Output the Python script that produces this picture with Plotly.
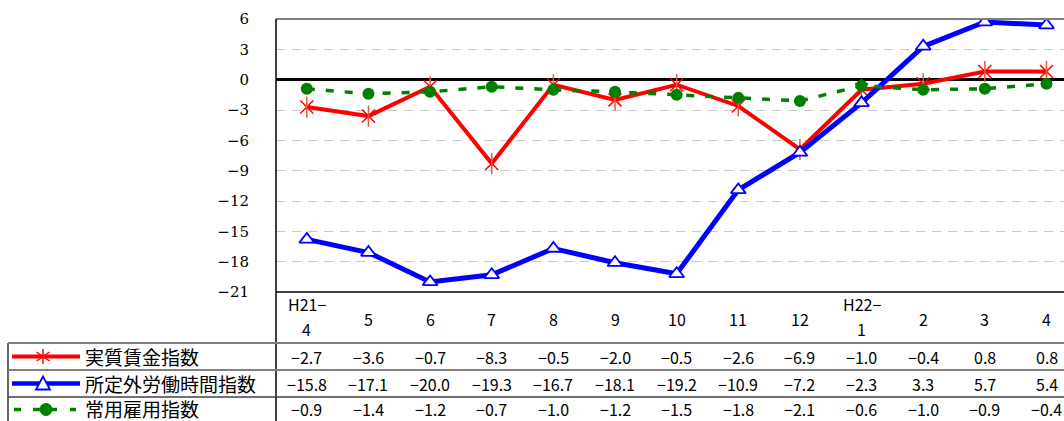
import plotly.graph_objects as go

# ---------------- data ----------------
categories = ["H21−\n4", "5", "6", "7", "8", "9", "10", "11", "12", "H22−\n1", "2", "3", "4"]
series_names = ["実質賃金指数", "所定外労働時間指数", "常用雇用指数"]
real_wage = [-2.7, -3.6, -0.7, -8.3, -0.5, -2.0, -0.5, -2.6, -6.9, -1.0, -0.4, 0.8, 0.8]
overtime = [-15.8, -17.1, -20.0, -19.3, -16.7, -18.1, -19.2, -10.9, -7.2, -2.3, 3.3, 5.7, 5.4]
employment = [-0.9, -1.4, -1.2, -0.7, -1.0, -1.2, -1.5, -1.8, -2.1, -0.6, -1.0, -0.9, -0.4]
y_ticks = list(range(-21, 7, 3))
y_ticktext = [str(v).replace("-", "−") for v in y_ticks]

W, H = 1064, 421
L, T, B_PIX = 276, 19, 292          # plot area left / top / bottom in window pixels
PW, PH = W - L, B_PIX - T
STEP = 61.64                        # pixels per category


def px(x):
    return (x - L) / PW


def py(y):
    return (B_PIX - y) / PH


xs = list(range(len(categories)))

fig = go.Figure()

# red: real wage
fig.add_trace(go.Scatter(x=xs, y=real_wage, mode="lines+markers", name=series_names[0],
                         line=dict(color="#FF0000", width=4),
                         marker=dict(symbol="x-thin-open", size=13, line=dict(color="#FF0000", width=1.5)),
                         showlegend=False, hoverinfo="skip"))
fig.add_trace(go.Scatter(x=xs, y=real_wage, mode="markers",
                         marker=dict(symbol="line-ns-open", size=15, line=dict(color="#FF0000", width=1.5)),
                         showlegend=False, hoverinfo="skip"))
# blue: overtime
fig.add_trace(go.Scatter(x=xs, y=overtime, mode="lines+markers", name=series_names[1],
                         line=dict(color="#0000FF", width=5),
                         marker=dict(symbol="triangle-up", size=13, color="white",
                                     line=dict(color="#0000FF", width=1.8)),
                         showlegend=False, hoverinfo="skip"))
# green: employment
fig.add_trace(go.Scatter(x=xs, y=employment, mode="lines+markers", name=series_names[2],
                         line=dict(color="#008000", width=3.5, dash="8px,11px"),
                         marker=dict(symbol="circle", size=12, color="#008000"),
                         showlegend=False, hoverinfo="skip"))

shapes = []
annotations = []

# borders
shapes.append(dict(type="line", xref="paper", yref="paper", x0=0, x1=1.02, y0=1, y1=1,
                   line=dict(color="#7f7f7f", width=2), layer="above"))
shapes.append(dict(type="line", xref="paper", yref="paper", x0=0, x1=1.02, y0=0, y1=0,
                   line=dict(color="black", width=1.5), layer="above"))
shapes.append(dict(type="line", xref="paper", yref="paper", x0=0, x1=0, y0=py(430), y1=1,
                   line=dict(color="black", width=1.5), layer="above"))
# legend column left border
shapes.append(dict(type="line", xref="paper", yref="paper", x0=px(8), x1=px(8), y0=py(343), y1=py(430),
                   line=dict(color="black", width=1.2), layer="above"))
# row separators
for yy, col, w in [(343, "#808080", 2), (370, "#808080", 2), (397, "#404040", 1.3)]:
    shapes.append(dict(type="line", xref="paper", yref="paper", x0=px(8), x1=1.02, y0=py(yy), y1=py(yy),
                       line=dict(color=col, width=w), layer="above"))

# header category labels (one annotation per text line)
for i, c in enumerate(categories):
    parts = c.split("\n")
    ys = [319] if len(parts) == 1 else [304, 329]
    for part, yy in zip(parts, ys):
        annotations.append(dict(x=i, y=py(yy), xref="x", yref="paper", text=part, showarrow=False,
                                xanchor="center", yanchor="middle",
                                font=dict(family="Noto Sans CJK JP", size=16, color="black")))

# table values
row_y = [356.5, 383.5, 408.5]
for vals, yy in zip([real_wage, overtime, employment], row_y):
    for i, v in enumerate(vals):
        annotations.append(dict(x=i, y=py(yy), xref="x", yref="paper",
                                text=f"{v:.1f}".replace("-", "−"), showarrow=False,
                                xanchor="center", yanchor="middle",
                                font=dict(family="Noto Sans CJK JP", size=16, color="black")))

# legend labels
for name, yy in zip(series_names, [356.5, 383.5, 408]):
    annotations.append(dict(x=px(83), y=py(yy), xref="paper", yref="paper", text=name, showarrow=False,
                            xanchor="left", yanchor="middle",
                            font=dict(family="Noto Sans CJK JP", size=19, color="black")))

# legend symbols
y1 = row_y[0]
shapes.append(dict(type="line", xref="paper", yref="paper", x0=px(12), x1=px(80), y0=py(y1), y1=py(y1),
                   line=dict(color="#FF0000", width=4), layer="above"))
for dx, dy in [(0, 7.5), (6.5, 4.5), (6.5, -4.5)]:
    shapes.append(dict(type="line", xref="paper", yref="paper", x0=px(43 - dx), x1=px(43 + dx),
                       y0=py(y1 + dy), y1=py(y1 - dy), line=dict(color="#FF0000", width=1.5), layer="above"))
y2 = row_y[1]
shapes.append(dict(type="line", xref="paper", yref="paper", x0=px(12), x1=px(80), y0=py(y2), y1=py(y2),
                   line=dict(color="#0000FF", width=4.5), layer="above"))
shapes.append(dict(type="path", xref="paper", yref="paper",
                   path=f"M {px(36)} {py(y2 + 6)} L {px(50)} {py(y2 + 6)} L {px(43)} {py(y2 - 7)} Z",
                   fillcolor="white", line=dict(color="#0000FF", width=1.8), layer="above"))
y3 = 409.5
for a, b in [(14, 21), (33, 57), (70, 76)]:
    shapes.append(dict(type="line", xref="paper", yref="paper", x0=px(a), x1=px(b), y0=py(y3), y1=py(y3),
                       line=dict(color="#008000", width=3.5), layer="above"))
shapes.append(dict(type="circle", xref="paper", yref="paper", x0=px(40), x1=px(52),
                   y0=py(y3 + 6), y1=py(y3 - 6), fillcolor="#008000", line=dict(color="#008000", width=1),
                   layer="above"))

fig.update_layout(
    width=W, height=H,
    margin=dict(l=L, r=0, t=T, b=H - B_PIX, pad=0),
    plot_bgcolor="white", paper_bgcolor="white",
    shapes=shapes, annotations=annotations,
    xaxis=dict(range=[-0.5, -0.5 + PW / STEP], showgrid=False, zeroline=False,
               showticklabels=False, ticks="", showline=False, fixedrange=True),
    yaxis=dict(range=[-21, 6], tickvals=y_ticks, ticktext=y_ticktext, ticks="",
               showgrid=True, gridcolor="#c8c8c8", gridwidth=1, griddash="9px,7px",
               zeroline=True, zerolinecolor="black", zerolinewidth=3,
               showline=False, ticklabelstandoff=26,
               tickfont=dict(family="DejaVu Serif", size=15, color="black"), fixedrange=True),
)

fig.write_html(
    "out.html",
    config={"staticPlot": True},
    post_script="document.body.style.margin='0';document.body.style.overflow='hidden';",
)
